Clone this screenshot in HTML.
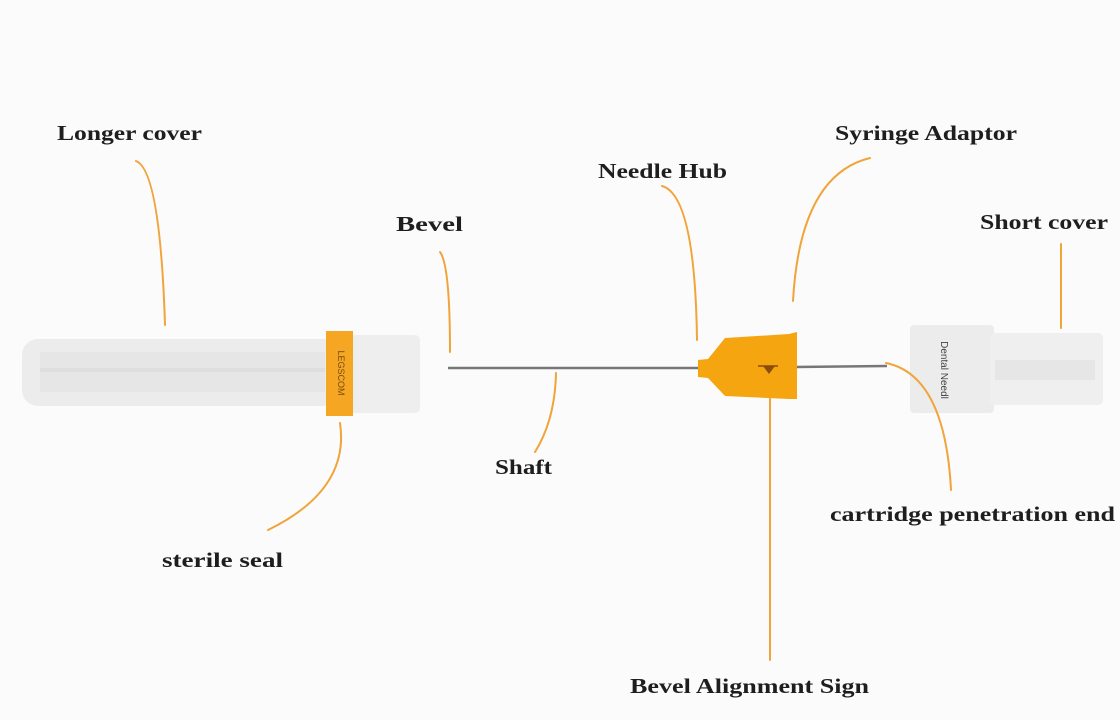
<!DOCTYPE html>
<html><head><meta charset="utf-8"><style>
html,body{margin:0;padding:0;background:#fbfbfb;}
svg{display:block}
text{font-family:"Liberation Serif",serif;font-weight:bold;font-size:21px;fill:#1e1e1e;}
.l{fill:none;stroke:#f0a43a;stroke-width:2;stroke-linecap:round}
</style></head><body>
<svg width="1120" height="720" viewBox="0 0 1120 720">
<rect width="1120" height="720" fill="#fbfbfb"/>
<rect x="22" y="339" width="316" height="67" rx="16" fill="#ececec"/>
<rect x="40" y="352" width="285" height="40" fill="#e6e6e6"/>
<rect x="40" y="368" width="285" height="4" fill="#dedede"/>
<rect x="350" y="335" width="70" height="78" rx="5" fill="#eeeeee"/>
<rect x="326" y="331" width="27" height="85" fill="#f5a623"/>
<text x="338" y="373" transform="rotate(90 338 373)" style="font-size:9px;fill:#7a4a10;font-family:'Liberation Sans',sans-serif;font-weight:normal" text-anchor="middle">LEGSCOM</text>
<line x1="448" y1="368" x2="700" y2="368" stroke="#777" stroke-width="2.5"/>
<line x1="795" y1="367" x2="887" y2="366" stroke="#777" stroke-width="2.5"/>
<path d="M698 360 L708 359 L725 338 L789 334 L797 332 L797 399 L789 399 L725 396 L708 378 L698 377 Z" fill="#f5a50f"/>
<path d="M763 366 l12 0 l-6 8 z" fill="#8a4d0a"/>
<line x1="758" y1="366" x2="778" y2="366" stroke="#8a4d0a" stroke-width="1.5"/>
<rect x="910" y="325" width="84" height="88" rx="4" fill="#ececec"/>
<rect x="990" y="333" width="113" height="72" rx="5" fill="#efefef"/>
<rect x="995" y="360" width="100" height="20" fill="#e6e6e6"/>
<text x="941" y="370" transform="rotate(90 941 370)" style="font-size:10px;fill:#444;font-family:'Liberation Sans',sans-serif;font-weight:normal" text-anchor="middle">Dental Needl</text>
<path class="l" d="M136 161 Q160 170 165 325"/>
<path class="l" d="M340 423 Q350 490 268 530"/>
<path class="l" d="M440 252 Q450 265 450 352"/>
<path class="l" d="M556 373 Q555 420 535 452"/>
<path class="l" d="M662 186 Q695 195 697 340"/>
<path class="l" d="M870 158 Q800 175 793 301"/>
<path class="l" d="M1061 244 L1061 328"/>
<path class="l" d="M886 363 Q945 375 951 490"/>
<path class="l" d="M770 398 L770 660"/>
<text x="57" y="140" textLength="145" lengthAdjust="spacingAndGlyphs">Longer cover</text>
<text x="396" y="231" textLength="67" lengthAdjust="spacingAndGlyphs">Bevel</text>
<text x="598" y="178" textLength="129" lengthAdjust="spacingAndGlyphs">Needle Hub</text>
<text x="835" y="140" textLength="182" lengthAdjust="spacingAndGlyphs">Syringe Adaptor</text>
<text x="980" y="229" textLength="128" lengthAdjust="spacingAndGlyphs">Short cover</text>
<text x="495" y="474" textLength="57" lengthAdjust="spacingAndGlyphs">Shaft</text>
<text x="162" y="567" textLength="121" lengthAdjust="spacingAndGlyphs">sterile seal</text>
<text x="830" y="521" textLength="285" lengthAdjust="spacingAndGlyphs">cartridge penetration end</text>
<text x="630" y="693" textLength="239" lengthAdjust="spacingAndGlyphs">Bevel Alignment Sign</text>
</svg>
</body></html>
